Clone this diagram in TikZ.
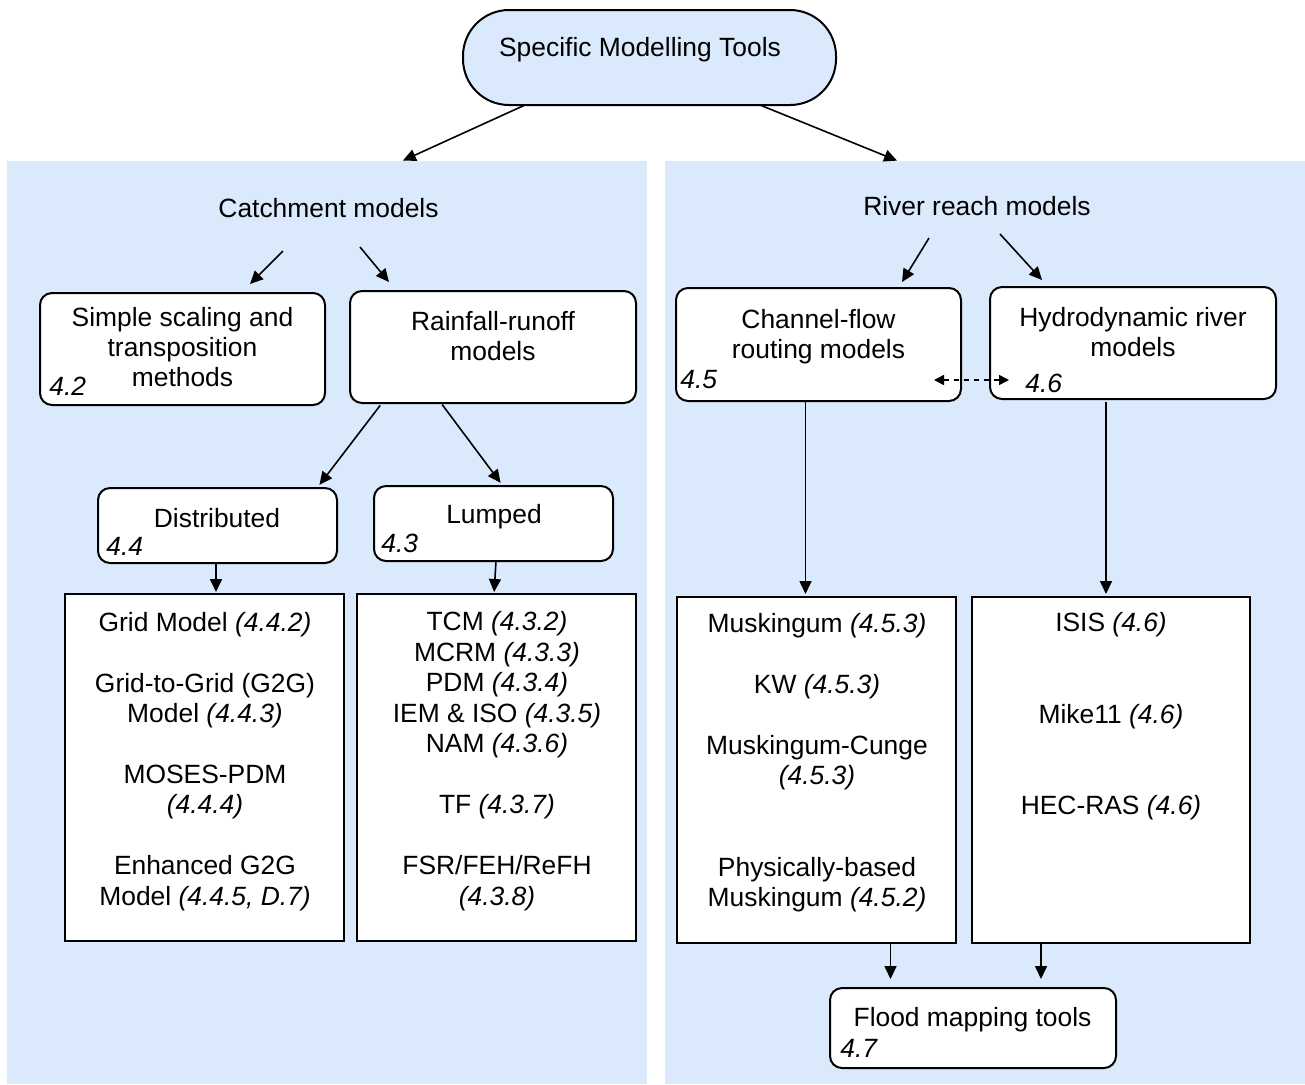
\documentclass[tikz,border=0pt]{standalone}
\usepackage{fontspec}
\setmainfont{Liberation Sans}
\usetikzlibrary{arrows.meta}
\definecolor{panelblue}{RGB}{218,234,252}
\begin{document}
\begin{tikzpicture}[x=0.5pt,y=-0.5pt,
  panel/.style={draw=none,fill=panelblue,inner sep=0,outer sep=0},
  rbox/.style={draw,line width=1pt,fill=white,rounded corners=6pt,inner sep=0,outer sep=0},
  sbox/.style={draw,line width=1pt,fill=white,inner sep=0,outer sep=0},
  pillbox/.style={draw,line width=1pt,fill=panelblue,rounded corners=23pt,inner sep=0,outer sep=0},
  txt/.style={font=\fontsize{13.2pt}{15.25pt}\selectfont,anchor=base,inner sep=0},
  num/.style={font=\fontsize{13.2pt}{15.25pt}\selectfont\itshape,anchor=base west,inner sep=0},
  arr/.style={line width=0.8pt,-{Triangle[length=6.5pt,width=6pt]}},
  darr/.style={line width=0.8pt,dash pattern=on 2.5pt off 2.5pt,{Triangle[length=5pt,width=5pt]}-{Triangle[length=5pt,width=5pt]}}]
\useasboundingbox (0,0) rectangle (1305,1084);
% panels
\node[panel,minimum width=320pt,minimum height=461.5pt] (lp) at (327,622.5) {};
\node[panel,minimum width=320pt,minimum height=461.5pt] (rp) at (985,622.5) {};
% top
\node[pillbox,minimum width=186.5pt,minimum height=47.5pt] (pill) at (649.5,57.5) {};
\node[txt] (pillt) at (640,56) {Specific Modelling Tools};
\node[txt] (catt) at (328.5,217) {Catchment models};
\node[txt] (rivt) at (977,215) {River reach models};
% left boxes
\node[rbox,minimum width=142.5pt,minimum height=56pt] (simple) at (182.5,349) {};
\node[txt] (s1) at (182.5,326) {Simple scaling and};
\node[txt] (s2) at (182.5,356) {transposition};
\node[txt] (s3) at (182.5,386) {methods};
\node[num] (sn) at (49,395) {4.2};
\node[rbox,minimum width=143pt,minimum height=56pt] (rain) at (493,347) {};
\node[txt] (r1) at (493,330) {Rainfall-runoff};
\node[txt] (r2) at (493,360) {models};
\node[rbox,minimum width=119.5pt,minimum height=37.5pt] (dist) at (217.5,525.5) {};
\node[txt] (d1) at (217,527) {Distributed};
\node[num] (dn) at (106,555) {4.4};
\node[rbox,minimum width=119.5pt,minimum height=37.5pt] (lump) at (493.5,523.5) {};
\node[txt] (l1) at (494,523) {Lumped};
\node[num] (ln) at (381,552) {4.3};
\node[sbox,minimum width=139.5pt,minimum height=173.5pt] (grid) at (204.5,767.5) {};
\node[txt] (g1) at (205,631) {Grid Model \textit{(4.4.2)}};
\node[txt] (g2) at (205,692) {Grid-to-Grid (G2G)};
\node[txt] (g3) at (205,722) {Model \textit{(4.4.3)}};
\node[txt] (g4) at (205,783) {MOSES-PDM};
\node[txt] (g5) at (205,813.5) {\textit{(4.4.4)}};
\node[txt] (g6) at (205,874.5) {Enhanced G2G};
\node[txt] (g7) at (205,905) {Model \textit{(4.4.5, D.7)}};
\node[sbox,minimum width=139.5pt,minimum height=173.5pt] (tcm) at (496.5,767.5) {};
\node[txt] (t1) at (497,630.5) {TCM \textit{(4.3.2)}};
\node[txt] (t2) at (497,661) {MCRM \textit{(4.3.3)}};
\node[txt] (t3) at (497,691.5) {PDM \textit{(4.3.4)}};
\node[txt] (t4) at (497,722) {IEM \& ISO \textit{(4.3.5)}};
\node[txt] (t5) at (497,752.5) {NAM \textit{(4.3.6)}};
\node[txt] (t6) at (497,813.5) {TF \textit{(4.3.7)}};
\node[txt] (t7) at (497,874.5) {FSR/FEH/ReFH};
\node[txt] (t8) at (497,905) {\textit{(4.3.8)}};
% right boxes
\node[rbox,minimum width=142.5pt,minimum height=56.5pt] (chan) at (818.5,344.5) {};
\node[txt] (c1) at (818.5,328.5) {Channel-flow};
\node[txt] (c2) at (818.5,358) {routing models};
\node[num] (cn) at (680,388.5) {4.5};
\node[rbox,minimum width=143pt,minimum height=56pt] (hydro) at (1133,343) {};
\node[txt] (h1) at (1133,326) {Hydrodynamic river};
\node[txt] (h2) at (1133,356) {models};
\node[num] (hn) at (1025,392) {4.6};
\node[sbox,minimum width=139.5pt,minimum height=173pt] (musk) at (816.5,770) {};
\node[txt] (m1) at (817,632) {Muskingum \textit{(4.5.3)}};
\node[txt] (m2) at (817,693.5) {KW \textit{(4.5.3)}};
\node[txt] (m3) at (817,754) {Muskingum-Cunge};
\node[txt] (m4) at (817,784) {\textit{(4.5.3)}};
\node[txt] (m5) at (817,876) {Physically-based};
\node[txt] (m6) at (817,906.5) {Muskingum \textit{(4.5.2)}};
\node[sbox,minimum width=139pt,minimum height=173pt] (isis) at (1111,770) {};
\node[txt] (i1) at (1111,631.5) {ISIS \textit{(4.6)}};
\node[txt] (i2) at (1111,723) {Mike11 \textit{(4.6)}};
\node[txt] (i3) at (1111,814.5) {HEC-RAS \textit{(4.6)}};
\node[rbox,minimum width=143pt,minimum height=40pt] (flood) at (973,1028) {};
\node[txt] (f1) at (972.5,1026) {Flood mapping tools};
\node[num] (fn) at (840,1057) {4.7};
% free connector ends
\coordinate (ca1) at (283,251); \coordinate (ca1e) at (250,284);
\coordinate (ca2) at (360,247); \coordinate (ca2e) at (389,282);
\coordinate (rr1) at (929,238); \coordinate (rr1e) at (902,282);
\coordinate (rr2) at (1000,234); \coordinate (rr2e) at (1042,280);
\coordinate (dl) at (934,380); \coordinate (dr) at (1009,380);
% connectors
\draw[arr,shorten >=0.5pt] (525,0 |- pill.south) -- (402,0 |- lp.north);
\draw[arr,shorten >=0.5pt] (760,0 |- pill.south) -- (898,0 |- rp.north);
\draw[arr] (ca1) -- (ca1e);
\draw[arr] (ca2) -- (ca2e);
\draw[arr] (rr1) -- (rr1e);
\draw[arr] (rr2) -- (rr2e);
\draw[arr,shorten <=1.5pt,shorten >=2pt] (382,0 |- rain.south) -- (317,0 |- dist.north);
\draw[arr,shorten <=1pt,shorten >=2pt] (441,0 |- rain.south) -- (503,0 |- lump.north);
\draw[arr,shorten >=1pt] (216,0 |- dist.south) -- (216,0 |- grid.north);
\draw[arr,shorten >=1pt] (496,0 |- lump.south) -- (494,0 |- tcm.north);
\draw[arr,shorten >=1.5pt] (805.5,0 |- chan.south) -- (805.5,0 |- musk.north);
\draw[arr,shorten <=1.5pt,shorten >=1.5pt] (1106,0 |- hydro.south) -- (1106,0 |- isis.north);
\draw[arr,shorten >=4.5pt] (890.5,0 |- musk.south) -- (890.5,0 |- flood.north);
\draw[arr,shorten >=4.5pt] (1041,0 |- isis.south) -- (1041,0 |- flood.north);
\draw[darr] (dl) -- (dr);
\end{tikzpicture}
\end{document}
